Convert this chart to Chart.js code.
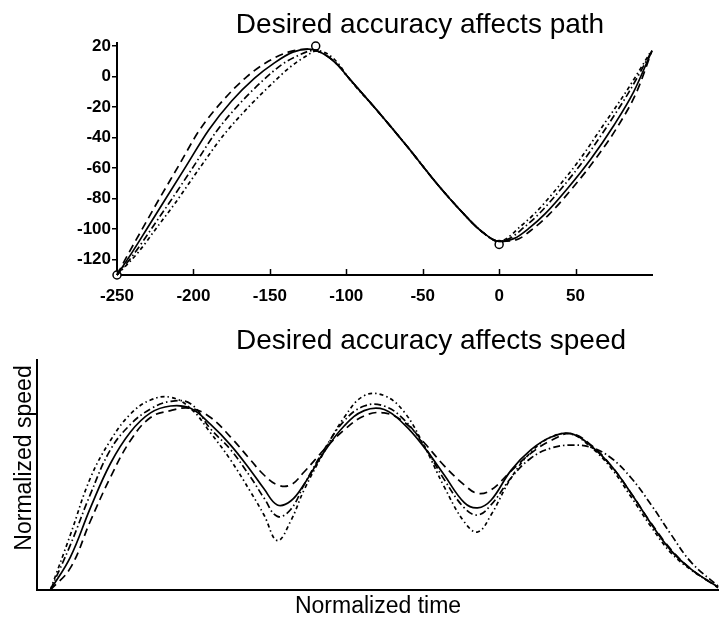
<!DOCTYPE html>
<html>
<head>
<meta charset="utf-8">
<script src="https://cdn.jsdelivr.net/npm/chart.js@4.4.0/dist/chart.umd.min.js"></script>
<style>
  html, body { margin: 0; padding: 0; background: #fff; }
  #wrap { position: relative; width: 719px; height: 618px; overflow: hidden; }
  canvas { position: absolute; left: 0; }
  #pathChart { top: 0; }
  #speedChart { top: 318px; }
</style>
</head>
<body>
<div id="wrap">
  <canvas id="pathChart" width="719" height="318"></canvas>
  <canvas id="speedChart" width="719" height="300"></canvas>
</div>
<script>
// hand path, one trace per accuracy condition: [x, y]
const pathSolid = [[-250,-130],[-240,-115],[-230,-99],[-220,-83],[-205,-59],[-190,-35],[-175,-16],[-160,-1],[-147,9],[-135,16],[-125,18],[-115,15],[-105,7],[-100,1],[-80,-22],[-60,-46],[-40,-71],[-25,-88],[-12,-101],[0,-108],[10,-106],[20,-99],[30,-90],[45,-73],[60,-54],[75,-32],[88,-10],[100,17]];
const pathDash = [[-250,-130],[-242,-115],[-233,-99],[-224,-83],[-210,-59],[-196,-35],[-181,-16],[-165,0],[-151,10],[-138,16],[-126,18],[-115,15],[-105,7],[-100,1],[-80,-22],[-60,-46],[-40,-71],[-25,-88],[-12,-101],[0,-108],[11,-107],[23,-99],[33,-90],[48,-73],[63,-54],[78,-32],[90,-10],[100,17]];
const pathDashDot = [[-250,-130],[-238,-115],[-227,-99],[-216,-83],[-200,-59],[-185,-36],[-170,-18],[-155,-3],[-142,8],[-131,14],[-122,17],[-113,14],[-105,7],[-100,1],[-80,-22],[-60,-46],[-40,-71],[-25,-88],[-12,-101],[0,-108],[7,-106],[16,-99],[26,-90],[41,-73],[56,-54],[71,-32],[85,-10],[100,17]];
const pathDashDotDot = [[-250,-130],[-236,-115],[-224,-99],[-212,-83],[-196,-60],[-180,-38],[-164,-20],[-149,-5],[-137,6],[-127,13],[-119,17],[-111,14],[-104,7],[-100,1],[-80,-22],[-60,-46],[-40,-71],[-25,-88],[-12,-101],[0,-108],[5,-106],[13,-99],[23,-90],[38,-73],[53,-54],[68,-32],[83,-10],[99,16]];
const targets = [[-250,-130],[-120,20],[0,-110]];

const pathXTicks = [-250, -200, -150, -100, -50, 0, 50];

// normalized time (%) and normalized speed
const timePct = [0,3,6,9,12,15,18,21,24,27,30,32,34,36,38,41,44,47,50,53,56,59,62,64,66,69,72,75,78,81,84,87,90,93,96,100];
const speedSolid = [0,0.143,0.357,0.55,0.687,0.77,0.80,0.79,0.72,0.63,0.52,0.44,0.37,0.387,0.46,0.60,0.713,0.78,0.785,0.72,0.62,0.50,0.38,0.357,0.39,0.52,0.61,0.665,0.68,0.626,0.54,0.42,0.287,0.17,0.09,0.013];
const speedDash = [0,0.096,0.30,0.49,0.65,0.75,0.78,0.79,0.75,0.665,0.565,0.50,0.457,0.457,0.513,0.61,0.696,0.757,0.77,0.73,0.64,0.54,0.457,0.42,0.435,0.517,0.595,0.65,0.68,0.63,0.54,0.42,0.29,0.175,0.09,0.01];
const speedDashDot = [0,0.196,0.417,0.61,0.72,0.787,0.82,0.81,0.70,0.61,0.49,0.40,0.32,0.35,0.457,0.61,0.735,0.80,0.80,0.74,0.626,0.48,0.357,0.326,0.37,0.487,0.574,0.617,0.63,0.62,0.574,0.487,0.37,0.24,0.12,0.017];
const speedDashDotDot = [0,0.24,0.487,0.65,0.765,0.826,0.838,0.79,0.683,0.565,0.426,0.326,0.215,0.30,0.435,0.60,0.75,0.845,0.845,0.774,0.626,0.448,0.296,0.252,0.326,0.487,0.60,0.665,0.678,0.62,0.53,0.404,0.274,0.16,0.087,0.013];

const FONT = "'Liberation Sans', Arial, Helvetica, sans-serif";

const styles = [
  { dash: [] },
  { dash: [8, 5] },
  { dash: [7, 3, 1.5, 3] },
  { dash: [4, 3, 1.5, 3] }
];

function lineSet(data, i, mode) {
  return {
    data: data,
    borderColor: '#000',
    borderWidth: 1.7,
    borderDash: styles[i].dash,
    pointRadius: 0,
    tension: 0.4,
    cubicInterpolationMode: mode || 'default',
    fill: false,
    clip: false
  };
}

// free text: titles and axis names
const captions = {
  id: 'captions',
  afterDraw(chart, args, opts) {
    const ctx = chart.ctx;
    (opts.items || []).forEach(c => {
      ctx.save();
      ctx.font = c.font;
      ctx.fillStyle = '#000';
      ctx.textAlign = 'center';
      ctx.textBaseline = 'alphabetic';
      ctx.translate(c.x, c.y);
      if (c.rotate) ctx.rotate(c.rotate);
      ctx.fillText(c.text, 0, 0);
      ctx.restore();
    });
  }
};

// short tick marks pointing into the plot along the x axis
const innerTicks = {
  id: 'innerTicks',
  afterDatasetsDraw(chart, args, opts) {
    if (!opts.length) return;
    const s = chart.scales.x, ctx = chart.ctx, y0 = chart.chartArea.bottom;
    ctx.save();
    ctx.strokeStyle = '#000';
    ctx.lineWidth = 1.5;
    s.ticks.forEach(t => {
      const x = Math.round(s.getPixelForValue(t.value)) + 0.5;
      ctx.beginPath();
      ctx.moveTo(x, y0);
      ctx.lineTo(x, y0 - opts.length);
      ctx.stroke();
    });
    ctx.restore();
  }
};

const toXY = arr => arr.map(p => ({ x: p[0], y: p[1] }));

new Chart(document.getElementById('pathChart'), {
  type: 'line',
  data: {
    datasets: [
      lineSet(toXY(pathSolid), 0, 'monotone'),
      lineSet(toXY(pathDash), 1, 'monotone'),
      lineSet(toXY(pathDashDot), 2, 'monotone'),
      lineSet(toXY(pathDashDotDot), 3, 'monotone'),
      {
        data: toXY(targets),
        showLine: false,
        pointRadius: 4,
        pointBackgroundColor: '#fff',
        pointBorderColor: '#000',
        pointBorderWidth: 1.5,
        clip: false
      }
    ]
  },
  options: {
    responsive: false,
    animation: false,
    layout: { padding: { top: 43, right: 67, left: 0, bottom: 0 } },
    plugins: {
      legend: { display: false },
      tooltip: { enabled: false },
      captions: {
        items: [
          { text: 'Desired accuracy affects path', x: 420, y: 33, font: '28px ' + FONT }
        ]
      },
      innerTicks: { length: 6 }
    },
    scales: {
      x: {
        type: 'linear',
        min: -250,
        max: 100,
        afterBuildTicks: s => { s.ticks = pathXTicks.map(v => ({ value: v })); },
        afterFit: s => { s.height = 43; },
        grid: { display: false },
        border: { color: '#000', width: 2 },
        ticks: { color: '#000', padding: 3, maxRotation: 0, font: { family: FONT, size: 17, weight: 'bold' } }
      },
      y: {
        min: -130,
        max: 22,
        afterFit: s => { s.width = 117; },
        grid: { drawOnChartArea: false, tickLength: 5, color: '#000', lineWidth: 1.5 },
        border: { color: '#000', width: 2 },
        ticks: { stepSize: 20, includeBounds: false, color: '#000', padding: 1, font: { family: FONT, size: 17, weight: 'bold' } }
      }
    }
  },
  plugins: [captions, innerTicks]
});

new Chart(document.getElementById('speedChart'), {
  type: 'line',
  data: {
    labels: timePct,
    datasets: [
      lineSet(speedSolid, 0),
      lineSet(speedDash, 1),
      lineSet(speedDashDot, 2),
      lineSet(speedDashDotDot, 3)
    ]
  },
  options: {
    responsive: false,
    animation: false,
    layout: { padding: { top: 42, right: 1, left: 0, bottom: 0 } },
    plugins: {
      legend: { display: false },
      tooltip: { enabled: false },
      captions: {
        items: [
          { text: 'Desired accuracy affects speed', x: 431, y: 31, font: '28px ' + FONT },
          { text: 'Normalized time', x: 378, y: 295, font: '23px ' + FONT },
          { text: 'Normalized speed', x: 31, y: 140, rotate: -Math.PI / 2, font: '23px ' + FONT }
        ]
      }
    },
    scales: {
      x: {
        type: 'linear',
        min: -2,
        max: 100,
        afterFit: s => { s.height = 28; },
        grid: { display: false },
        border: { color: '#000', width: 2 },
        ticks: { display: false }
      },
      y: {
        min: 0,
        max: 1,
        afterFit: s => { s.width = 37; },
        grid: { display: false },
        border: { color: '#000', width: 2 },
        ticks: { display: false }
      }
    }
  },
  plugins: [captions]
});
</script>
</body>
</html>
